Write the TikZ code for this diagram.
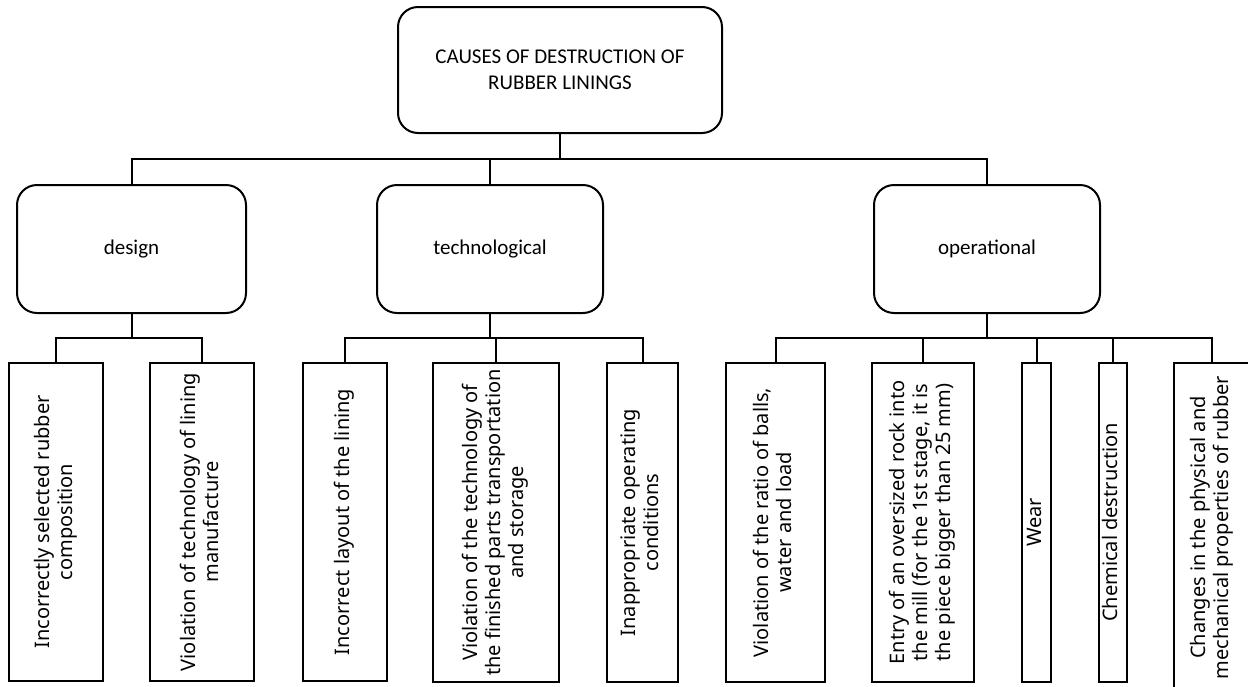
\documentclass[tikz,border=0pt]{standalone}
\usepackage{fontspec}
\usepackage{graphicx}
\setmainfont{Noto Sans}
\newfontfamily\vfont{Noto Sans}
\newfontfamily\hdfont{Carlito}
\newcommand{\vtext}[1]{\rotatebox{90}{\begin{tabular}{@{}c@{}}#1\end{tabular}}}
\tikzset{
  rbox/.style={draw, line width=2pt, rounded corners=20pt, inner sep=0pt, align=center,
    font=\hdfont\fontsize{21}{26}\selectfont},
  cbox/.style={draw, line width=2pt, inner sep=0pt,
    font=\vfont\fontsize{20}{23}\selectfont},
  link/.style={line width=2pt},
}
\begin{document}
\begin{tikzpicture}[x=1pt,y=-1pt]
\useasboundingbox (0,0) rectangle (1248,686);
\clip (0,0) rectangle (1248,686);
% root
\node[rbox, minimum width=324pt, minimum height=126pt] (top) at (560,70) {CAUSES OF DESTRUCTION OF\\RUBBER LININGS};
% level 1
\node[rbox, minimum width=229pt, minimum height=128pt] (design) at (131.5,249) {design};
\node[rbox, minimum width=226pt, minimum height=128pt] (tech) at (490,249) {technological};
\node[rbox, minimum width=226pt, minimum height=128pt] (oper) at (987,249) {operational};
% level 2
\node[cbox, minimum width=94pt, minimum height=318pt] (c1) at (56,522) {\vtext{Incorrectly selected rubber\\composition}};
\node[cbox, minimum width=104pt, minimum height=318pt] (c2) at (202,522) {\vtext{Violation of technology of lining\\manufacture}};
\node[cbox, minimum width=84pt, minimum height=318pt] (c3) at (345,522) {\vtext{Incorrect layout of the lining}};
\node[cbox, minimum width=126pt, minimum height=319pt] (c4) at (496,522.5) {\vtext{Violation of the technology of\\the finished parts transportation\\and storage}};
\node[cbox, minimum width=71pt, minimum height=319pt] (c5) at (642.5,522.5) {\vtext{Inappropriate operating\\conditions}};
\node[cbox, minimum width=99pt, minimum height=319pt] (c6) at (775.5,522.5) {\vtext{Violation of the ratio of balls,\\water and load}};
\node[cbox, minimum width=102pt, minimum height=319pt] (c7) at (923,522.5) {\vtext{Entry of an oversized rock into\\the mill (for the 1st stage, it is\\the piece bigger than 25 mm)}};
\node[cbox, minimum width=29pt, minimum height=319pt] (c8) at (1036.5,522.5) {\vtext{Wear}};
\node[cbox, minimum width=28pt, minimum height=319pt] (c9) at (1113,522.5) {\vtext{Chemical destruction}};
\node[cbox, minimum width=76pt, minimum height=329pt] (c10) at (1212,527.5) {\vtext{Changes in the physical and\\mechanical properties of rubber}};
% bus coordinates
\coordinate (b0) at (560,159);
\coordinate (db) at (131.5,338);
\coordinate (tb) at (490,338);
\coordinate (ob) at (987,338);
% connectors
\draw[link] (top.south) -- (b0);
\draw[link] (design.north) |- (b0) -| (oper.north);
\draw[link] (tech.north) -- (tech.north |- b0);
\draw[link] (design.south) -- (db);
\draw[link] (c1.north) |- (db) -| (c2.north);
\draw[link] (tech.south) -- (tb);
\draw[link] (c3.north) |- (tb) -| (c5.north);
\draw[link] (c4.north) -- (c4.north |- tb);
\draw[link] (oper.south) -- (ob);
\draw[link] (c6.north) |- (ob) -| (c10.north);
\draw[link] (c7.north) -- (c7.north |- ob);
\draw[link] (c8.north) -- (c8.north |- ob);
\draw[link] (c9.north) -- (c9.north |- ob);
\end{tikzpicture}
\end{document}
